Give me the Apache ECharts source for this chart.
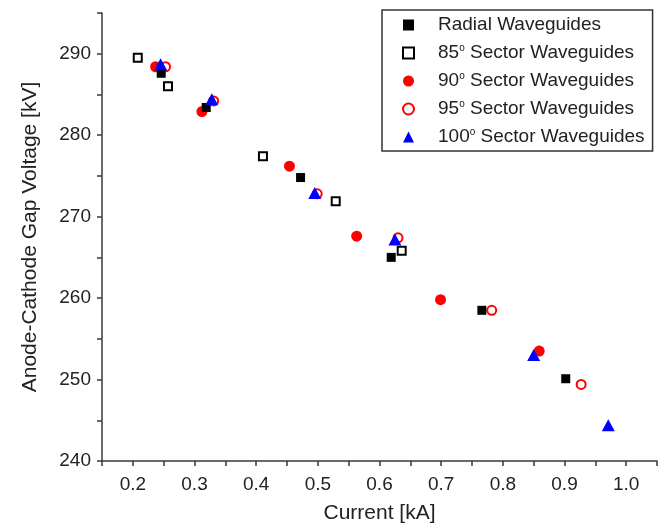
<!DOCTYPE html>
<html>
<head>
<meta charset="utf-8">
<script src="https://cdn.jsdelivr.net/npm/echarts@6/dist/echarts.min.js"></script>
<style>
  html, body { margin: 0; padding: 0; background: #fff; }
  #chart { width: 668px; height: 523px; }
</style>
</head>
<body>
<div id="chart"></div>
<script>
// Current [kA] and anode-cathode gap voltage [kV] for each waveguide geometry
const radialCurrent = [0.246, 0.319, 0.472, 0.619, 0.766, 0.902];
const radialVoltage = [287.6, 283.4, 274.8, 265.0, 258.5, 250.1];

const sector85Current = [0.208, 0.257, 0.411, 0.529, 0.636];
const sector85Voltage = [289.5, 286.0, 277.4, 271.9, 265.8];

const sector90Current = [0.237, 0.312, 0.454, 0.563, 0.699, 0.859];
const sector90Voltage = [288.4, 282.9, 276.2, 267.6, 259.8, 253.5];

const sector95Current = [0.253, 0.331, 0.499, 0.630, 0.782, 0.927];
const sector95Voltage = [288.4, 284.2, 272.8, 267.4, 258.5, 249.4];

const sector100Current = [0.245, 0.328, 0.495, 0.625, 0.850, 0.971];
const sector100Voltage = [288.7, 284.4, 272.9, 267.2, 253.0, 244.4];

// Legend labels; the degree sign is drawn as a raised small "o"
const seriesNames = [
  'Radial Waveguides',
  '85° Sector Waveguides',
  '90° Sector Waveguides',
  '95° Sector Waveguides',
  '100° Sector Waveguides'
];
const richLabels = [
  'Radial Waveguides',
  '85{sup|o} Sector Waveguides',
  '90{sup|o} Sector Waveguides',
  '95{sup|o} Sector Waveguides',
  '100{sup|o} Sector Waveguides'
];

function pairs(xs, ys) {
  return xs.map((x, i) => [x, ys[i]]);
}

const FONT = 'Liberation Sans, Arial, sans-serif';
const AXIS_COLOR = '#3a3a3a';
const TEXT_COLOR = '#222';

const chart = echarts.init(document.getElementById('chart'), null, { renderer: 'canvas' });

const richFor = {};
seriesNames.forEach((n, i) => { richFor[n] = richLabels[i]; });

chart.setOption({
  animation: false,
  backgroundColor: '#ffffff',
  grid: { left: 102, top: 13, right: 11, bottom: 62, containLabel: false, outerBoundsMode: 'none' },
  legend: {
    orient: 'vertical',
    left: 382,
    top: 10,
    padding: [5, 8, 4, 20],
    itemGap: 8,
    itemWidth: 11,
    itemHeight: 11,
    borderColor: '#333',
    borderWidth: 1.5,
    backgroundColor: '#fff',
    data: seriesNames,
    formatter: name => richFor[name],
    textStyle: {
      fontFamily: FONT,
      fontSize: 19,
      lineHeight: 20,
      color: TEXT_COLOR,
      padding: [0, 0, 0, 19],
      rich: {
        sup: { fontSize: 10, lineHeight: 20, fontFamily: FONT, color: TEXT_COLOR, padding: [0, 0, 10, 0] }
      }
    }
  },
  xAxis: {
    type: 'value',
    min: 0.15,
    max: 1.05,
    interval: 0.05,
    name: 'Current [kA]',
    nameLocation: 'middle',
    nameGap: 42,
    nameTextStyle: { fontFamily: FONT, fontSize: 21, color: TEXT_COLOR },
    axisLine: { show: true, onZero: false, lineStyle: { color: AXIS_COLOR, width: 1.5 } },
    axisTick: { show: true, inside: false, length: 5, lineStyle: { color: AXIS_COLOR, width: 1.5 } },
    axisLabel: {
      fontFamily: FONT, fontSize: 19, color: TEXT_COLOR, margin: 14,
      formatter: v => {
        const r = Math.round(v * 100);
        return (r % 10 === 0) ? (r / 100).toFixed(1) : '';
      }
    },
    splitLine: { show: false }
  },
  yAxis: {
    type: 'value',
    min: 240,
    max: 295,
    interval: 5,
    name: 'Anode-Cathode Gap Voltage [kV]',
    nameLocation: 'middle',
    nameRotate: 90,
    nameGap: 61,
    nameTextStyle: { fontFamily: FONT, fontSize: 21, color: TEXT_COLOR },
    axisLine: { show: true, onZero: false, lineStyle: { color: AXIS_COLOR, width: 1.5 } },
    axisTick: { show: true, inside: false, length: 5, lineStyle: { color: AXIS_COLOR, width: 1.5 } },
    axisLabel: {
      fontFamily: FONT, fontSize: 19, color: TEXT_COLOR, margin: 11,
      formatter: v => (Math.round(v) % 10 === 0) ? String(Math.round(v)) : ''
    },
    splitLine: { show: false }
  },
  series: [
    {
      name: seriesNames[0], type: 'scatter', symbol: 'rect', symbolSize: 9,
      itemStyle: { color: '#000', opacity: 1 },
      data: pairs(radialCurrent, radialVoltage), z: 2
    },
    {
      name: seriesNames[1], type: 'scatter', symbol: 'rect', symbolSize: 8,
      itemStyle: { color: '#fff', borderColor: '#000', borderWidth: 2, opacity: 1 },
      data: pairs(sector85Current, sector85Voltage), z: 3
    },
    {
      name: seriesNames[2], type: 'scatter', symbol: 'circle', symbolSize: 11,
      itemStyle: { color: '#ff0000', opacity: 1 },
      data: pairs(sector90Current, sector90Voltage), z: 1
    },
    {
      name: seriesNames[3], type: 'scatter', symbol: 'circle', symbolSize: 9,
      itemStyle: { color: '#fff', borderColor: '#ff0000', borderWidth: 2, opacity: 1 },
      data: pairs(sector95Current, sector95Voltage), z: 1
    },
    {
      name: seriesNames[4], type: 'scatter', symbol: 'triangle', symbolSize: [13, 12],
      itemStyle: { color: '#0000ff', opacity: 1 },
      data: pairs(sector100Current, sector100Voltage), z: 4
    }
  ]
});
</script>
</body>
</html>
